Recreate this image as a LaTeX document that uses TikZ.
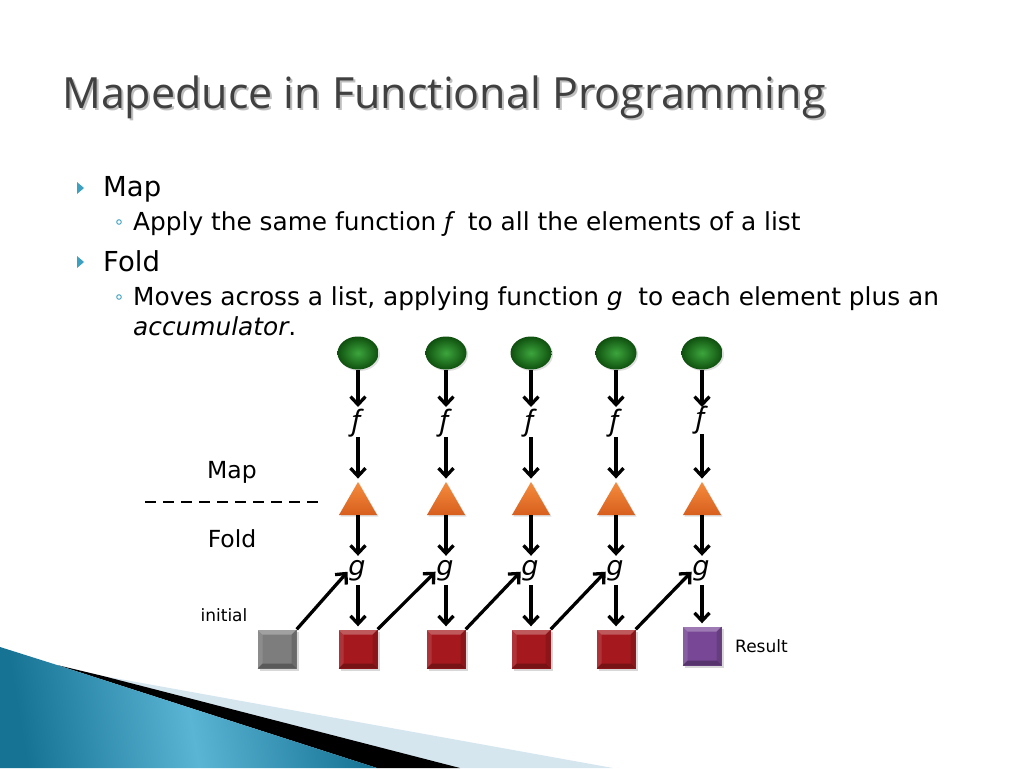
\documentclass[tikz,border=0pt]{standalone}
\usepackage{fontspec}
\setmainfont{DejaVu Sans}
\newfontfamily\titlefont{Open Sans}
\newfontfamily\fgfont{Noto Sans}
\usetikzlibrary{arrows.meta,shapes.geometric,shadows}
\definecolor{titlegray}{RGB}{64,64,64}
\definecolor{teal}{RGB}{60,160,192}
\definecolor{balldark}{RGB}{15,80,15}
\definecolor{balllight}{RGB}{60,165,60}
\definecolor{orangetop}{RGB}{245,140,60}
\definecolor{orangebot}{RGB}{215,95,30}
\definecolor{sqred}{RGB}{165,25,30}
\definecolor{sqgray}{RGB}{125,125,125}
\definecolor{sqpurple}{RGB}{120,72,150}
\definecolor{wavedark}{RGB}{22,115,148}
\definecolor{wavelight}{RGB}{90,180,212}
\definecolor{wavepale}{RGB}{214,230,239}
\begin{document}
\begin{tikzpicture}[x=1pt,y=-1pt,
  txt/.style={inner sep=0pt,text=black},
  arr/.style={line width=3.3pt,-{Straight Barb[length=8pt,width=15pt]}},
  ball/.style={ellipse,minimum width=41pt,minimum height=33pt,inner sep=0pt,
    inner color=balllight,outer color=balldark,
    drop shadow={shadow xshift=1.5pt,shadow yshift=-1.5pt,opacity=0.25}},
  tri/.style={regular polygon,regular polygon sides=3,minimum size=44pt,inner sep=0pt,
    top color=orangetop,bottom color=orangebot,
    drop shadow={shadow xshift=1.5pt,shadow yshift=-1.5pt,opacity=0.25}},
  flab/.style={inner sep=0pt,minimum height=28pt,font=\fontsize{28}{30}\fgfont\itshape},
  glab/.style={inner sep=0pt,minimum height=28pt,font=\fontsize{27}{30}\selectfont\itshape},
  bev/.style={path picture={
    \path (path picture bounding box.north west) coordinate (pA)
          (path picture bounding box.north east) coordinate (pB)
          (path picture bounding box.south east) coordinate (pC)
          (path picture bounding box.south west) coordinate (pD);
    \fill[white,opacity=.28] (pA) -- (pB) -- ([shift={(-5pt,-5pt)}]pB) -- ([shift={(5pt,-5pt)}]pA) -- cycle;
    \fill[white,opacity=.12] (pA) -- ([shift={(5pt,-5pt)}]pA) -- ([shift={(5pt,5pt)}]pD) -- (pD) -- cycle;
    \fill[black,opacity=.28] (pD) -- ([shift={(5pt,5pt)}]pD) -- ([shift={(-5pt,5pt)}]pC) -- (pC) -- cycle;
    \fill[black,opacity=.15] (pC) -- ([shift={(-5pt,5pt)}]pC) -- ([shift={(-5pt,-5pt)}]pB) -- (pB) -- cycle;
  }},
  sq/.style={rectangle,minimum size=39pt,inner sep=0pt,bev,
    drop shadow={shadow xshift=2pt,shadow yshift=-2pt,opacity=0.3}},
]
\useasboundingbox (0,0) rectangle (1024,768);
\fill[white] (0,0) rectangle (1024,768);

% bottom-left wave
\fill[wavepale] (103,676) -- (613,768) -- (440,768) -- cycle;
\fill[black] (57,665) -- (103,676) -- (460,768) -- (377,768) -- cycle;
\shade[left color=wavedark,right color=wavedark,middle color=wavelight,shading angle=100]
  (0,647) -- (57,665) -- (377,768) -- (0,768) -- cycle;

% title
\node[anchor=base west,inner sep=0pt,text=black!25,font=\fontsize{43}{48}\titlefont] at (64,110) {Mapeduce in Functional Programming};
\node[anchor=base west,inner sep=0pt,text=titlegray,font=\fontsize{43}{48}\titlefont] (title) at (62,108) {Mapeduce in Functional Programming};

% bullets
\fill[teal] (77,182) -- (84,188) -- (77,194) -- cycle;
\node[txt,anchor=base west,font=\fontsize{27.5}{30}\selectfont] (tmap) at (103,196) {Map};
\draw[teal,line width=0.9pt] (119,222) circle (2.3);
\node[txt,anchor=base west,font=\fontsize{24.8}{28}\selectfont] (tapply) at (133,230) {Apply the same function {\fgfont\itshape f}\ \ to all the elements of a list};
\fill[teal] (77,256) -- (84,262) -- (77,268) -- cycle;
\node[txt,anchor=base west,font=\fontsize{27.5}{30}\selectfont] (tfold) at (103,271) {Fold};
\draw[teal,line width=0.9pt] (119,297) circle (2.3);
\node[txt,anchor=base west,font=\fontsize{24.8}{28}\selectfont] (tmoves) at (133,305) {Moves across a list, applying function \textit{g}\ \ to each element plus an};
\node[txt,anchor=base west,font=\fontsize{24.8}{28}\selectfont] (tacc) at (133,335) {\textit{accumulator}.};

% side labels
\node[txt,anchor=base,font=\fontsize{23.5}{26}\selectfont] (lmap) at (232,478) {Map};
\node[txt,anchor=base,font=\fontsize{23.5}{26}\selectfont] (lfold) at (232,547) {Fold};
\coordinate (dl) at (145,502);
\coordinate (dr) at (318,502);
\draw[line width=2.6pt,dash pattern=on 11pt off 7pt] (dl) -- (dr);
\node[txt,anchor=base,font=\fontsize{17}{20}\selectfont] (linit) at (224,621) {initial};

% columns
\foreach \x/\fy [count=\i] in {358/423,446/423,531/423,616/423,702/420}{
  \node[ball] (e\i) at (\x,353) {};
  \node[flab] (f\i) at (\x-2,\fy) {f};
  \node[tri] (t\i) at (\x,504) {};
  \node[glab] (g\i) at (\x-1,571) {g};
  \draw[arr] (e\i.south) -- (\x,407);
}
\foreach \i in {1,...,5}{
  \draw[arr,shorten >=3pt] (t\i.north |- f\i.south) -- (t\i.north);
  \draw[arr,shorten >=1pt] (t\i.south) -- (t\i.south |- g\i.north);
}

% squares
\node[sq,fill=sqgray] (s0) at (277,649) {};
\node[sq,fill=sqred] (s1) at (358,649) {};
\node[sq,fill=sqred] (s2) at (446,649) {};
\node[sq,fill=sqred] (s3) at (531,649) {};
\node[sq,fill=sqred] (s4) at (616,649) {};
\node[sq,fill=sqpurple] (s5) at (702,646) {};
\node[txt,anchor=base west,font=\fontsize{17}{20}\selectfont] (lres) at (735,652) {Result};

\foreach \i in {1,...,5}{
  \draw[arr,shorten >=3pt] (s\i.north |- g\i.south) -- (s\i.north);
}
\foreach \j/\i in {0/1,1/2,2/3,3/4,4/5}{
  \draw[arr,shorten >=1pt] (s\j.north east) -- (g\i.west);
}
\end{tikzpicture}
\end{document}
